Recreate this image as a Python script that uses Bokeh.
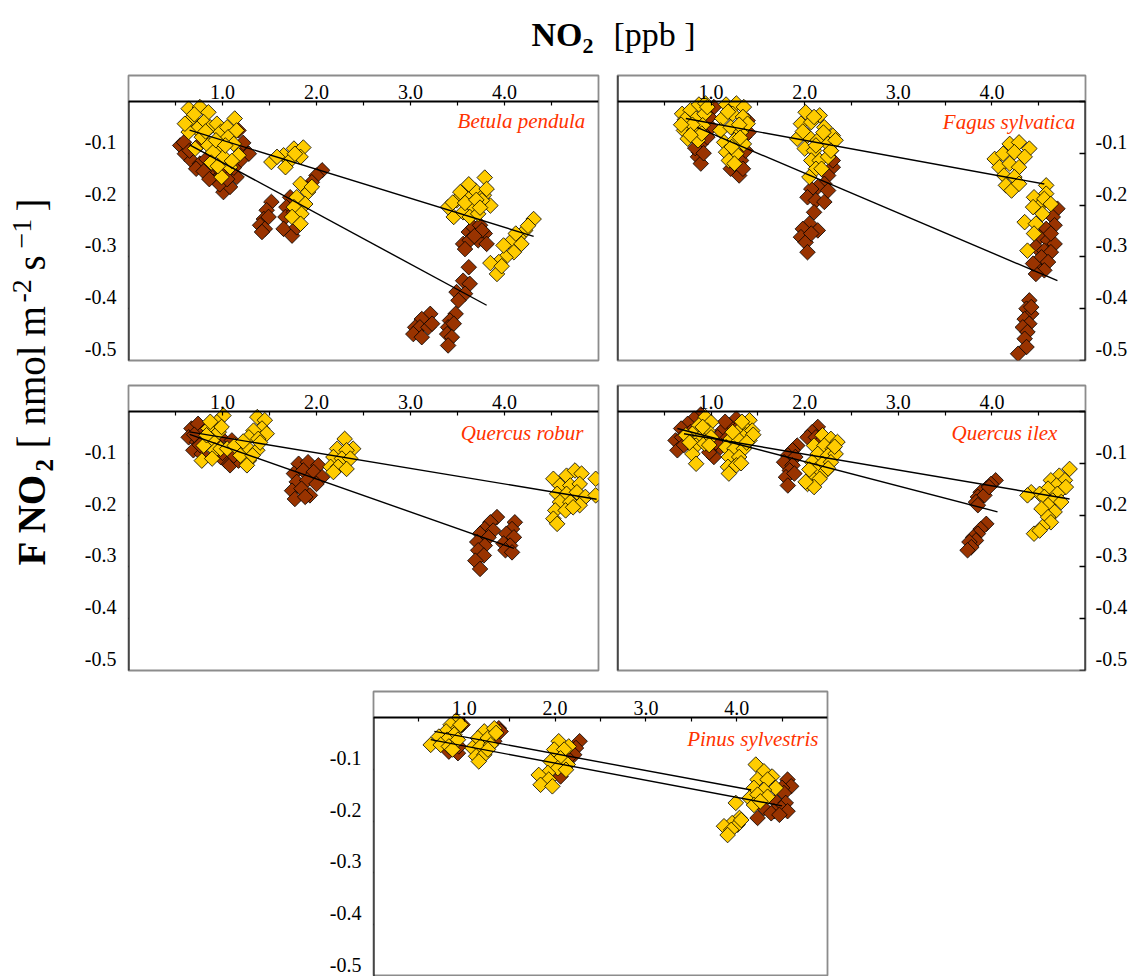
from math import pi

from bokeh.embed import file_html
from bokeh.layouts import column, row
from bokeh.models import (CustomJSTickFormatter, FixedTicker, Label, LinearAxis,
                          NumeralTickFormatter, Range1d, Spacer)
from bokeh.plotting import figure
from bokeh.resources import INLINE

# ---------------------------------------------------------------- styling
SERIF = "Liberation Serif"
GOLD = "#ffcc00"
BROWN = "#993300"
SPECIES_RED = "#ff3300"
FRAME_GREY = "#8c8c8c"
MARK_SIZE = 11           # side of the square marker, drawn rotated 45 deg
LABEL_RISE = 0.022       # y tick labels sit just above their tick marks

# ---------------------------------------------------------------- axes
X_MAJOR = [1, 2, 3, 4]
X_MINOR = [0.5, 1.5, 2.5, 3.5, 4.5]
Y_TICKS = [0, -0.1, -0.2, -0.3, -0.4, -0.5]
Y_LABELLED = [-0.1, -0.2, -0.3, -0.4, -0.5]

# ---------------------------------------------------------------- data
# NO2 concentration [ppb] vs. NO2 flux [nmol m-2 s-1], two series per species

BETULA_GOLD_X = [0.64, 0.76, 0.85, 0.67, 0.80, 0.73, 0.87, 0.94, 0.64, 0.78, 0.71, 0.85, 0.98,
                 1.05, 1.13, 1.06, 0.98, 1.12, 1.01, 1.08, 0.99, 0.90, 0.60, 1.15, 1.17,
                 0.70, 0.82, 0.93, 1.03, 0.88, 0.95, 1.10,
                 1.52, 1.65, 1.76, 1.86, 1.72, 1.83, 1.67, 1.58, 1.77,
                 1.83, 1.91, 1.79, 1.88, 1.76, 1.84, 1.74, 1.83, 1.95,
                 3.79, 3.40, 3.49, 3.60, 3.69, 3.78, 3.85, 3.46, 3.56, 3.67, 3.76, 3.63, 3.72,
                 3.53, 3.81, 3.45, 3.58, 3.70, 3.62, 3.74,
                 4.31, 4.22, 4.15, 4.06, 4.18, 4.10, 4.01, 3.94, 3.85, 3.92, 3.99, 4.12, 4.25,
                 3.97]
BETULA_GOLD_Y = [-0.014, -0.011, -0.021, -0.033, -0.040, -0.053, -0.050, -0.043, -0.059, -0.069,
                 -0.091, -0.085, -0.059, -0.050, -0.033, -0.069, -0.091, -0.082, -0.107, -0.127,
                 -0.146, -0.098, -0.043, -0.056, -0.104,
                 -0.025, -0.058, -0.075, -0.085, -0.118, -0.125, -0.115,
                 -0.117, -0.104, -0.091, -0.089, -0.114, -0.107, -0.127, -0.107, -0.101,
                 -0.159, -0.175, -0.185, -0.198, -0.204, -0.217, -0.223, -0.236, -0.165,
                 -0.147, -0.204, -0.191, -0.178, -0.172, -0.181, -0.201, -0.223, -0.214, -0.204,
                 -0.191, -0.223, -0.217, -0.175, -0.169, -0.195, -0.196, -0.190, -0.160, -0.205,
                 -0.227, -0.249, -0.262, -0.272, -0.275, -0.291, -0.301, -0.310, -0.312, -0.333,
                 -0.278, -0.255, -0.240, -0.318]
BETULA_BROWN_X = [0.55, 0.60, 0.67, 0.76, 0.83, 0.87, 0.94, 1.01, 1.08, 1.15, 1.24, 1.28, 1.19,
                  0.90, 0.76, 0.59, 0.98, 1.17, 0.65, 0.72, 0.80, 0.97, 1.05, 1.12, 1.22, 0.86,
                  1.52, 1.47, 1.44, 1.49, 1.40, 1.45, 1.42,
                  2.06, 2.00, 1.95, 1.90, 1.72, 1.68, 1.67, 1.65, 1.74, 1.79, 1.76,
                  3.56, 3.62, 3.67, 3.74, 3.79, 3.72, 3.63, 3.81, 3.76, 3.68, 3.58,
                  3.62, 3.56, 3.63, 3.49, 3.58, 3.51,
                  3.21, 3.12, 3.05, 3.10, 3.19, 3.03, 3.12, 3.23,
                  3.48, 3.42, 3.40, 3.46, 3.39, 3.44, 3.40]
BETULA_BROWN_Y = [-0.085, -0.101, -0.114, -0.120, -0.111, -0.140, -0.153, -0.175, -0.165, -0.146,
                  -0.095, -0.101, -0.114, -0.127, -0.082, -0.079, -0.133, -0.056,
                  -0.095, -0.130, -0.135, -0.160, -0.150, -0.128, -0.080, -0.150,
                  -0.194, -0.210, -0.227, -0.223, -0.239, -0.246, -0.252,
                  -0.133, -0.143, -0.156, -0.169, -0.185, -0.204, -0.223, -0.246, -0.259, -0.243,
                  -0.214,
                  -0.275, -0.252, -0.243, -0.239, -0.255, -0.268, -0.268, -0.275, -0.249, -0.260,
                  -0.285,
                  -0.320, -0.346, -0.352, -0.368, -0.371, -0.384,
                  -0.410, -0.420, -0.436, -0.436, -0.436, -0.449, -0.455, -0.429,
                  -0.410, -0.423, -0.436, -0.429, -0.449, -0.455, -0.471]

FAGUS_GOLD_X = [0.69, 0.78, 0.87, 0.94, 0.75, 0.84, 0.93, 0.71, 0.82, 0.91, 0.75, 0.86, 0.96,
                0.72, 0.80, 0.90, 0.78, 0.68,
                1.16, 1.27, 1.35, 1.12, 1.23, 1.34, 1.10, 1.21, 1.32, 1.14, 1.25, 1.35, 1.16,
                1.27, 1.19, 1.39, 1.18, 1.30, 1.22, 1.31, 1.25,
                2.01, 2.16, 1.96, 2.07, 2.21, 2.30, 1.92, 2.03, 2.14, 2.25, 2.33, 2.00, 2.10,
                2.07, 2.16, 2.25, 2.12, 2.05, 2.10, 2.20, 2.28, 1.98, 2.12, 2.18,
                4.19, 4.29, 4.40, 4.03, 4.12, 4.24, 4.35, 4.08, 4.19, 4.29, 4.13, 4.24, 4.15,
                4.21, 4.29,
                4.58, 4.58, 4.45, 4.53, 4.44, 4.54, 4.35, 4.47, 4.45, 4.56, 4.38, 4.63]
FAGUS_GOLD_Y = [-0.024, -0.017, -0.006, -0.004, -0.040, -0.033, -0.024, -0.056, -0.056, -0.046,
                -0.072, -0.075, -0.011, -0.035, -0.045, -0.062, -0.065, -0.045,
                -0.006, -0.004, -0.011, -0.033, -0.024, -0.030, -0.056, -0.050, -0.059, -0.079,
                -0.075, -0.082, -0.098, -0.101, -0.114, -0.043, -0.020, -0.045, -0.088, -0.070,
                -0.120,
                -0.021, -0.027, -0.043, -0.040, -0.050, -0.066, -0.072, -0.066, -0.075, -0.082,
                -0.075, -0.091, -0.095, -0.114, -0.114, -0.107, -0.130, -0.146, -0.030, -0.060,
                -0.095, -0.058, -0.085, -0.130,
                -0.082, -0.079, -0.091, -0.111, -0.101, -0.098, -0.107, -0.127, -0.120, -0.127,
                -0.143, -0.146, -0.162, -0.172, -0.159,
                -0.162, -0.178, -0.185, -0.198, -0.204, -0.217, -0.233, -0.236, -0.255, -0.188,
                -0.288, -0.198]
FAGUS_BROWN_X = [0.89, 0.87, 0.86, 0.89, 1.00, 1.03, 0.96, 0.83, 0.92, 0.98,
                 1.21, 1.30, 1.32, 1.37, 1.39, 1.35, 1.25, 1.34, 1.40,
                 2.28, 2.30, 2.25, 2.21, 2.14, 2.07, 2.03, 2.12, 2.21, 2.10, 2.05, 1.98, 1.96,
                 2.01, 2.03, 2.14, 2.07, 2.25, 2.30,
                 4.70, 4.65, 4.67, 4.58, 4.51, 4.60, 4.67, 4.47, 4.56, 4.63, 4.53, 4.60, 4.49,
                 4.56, 4.47, 4.44, 4.63,
                 4.40, 4.37, 4.42, 4.35, 4.40, 4.33, 4.38, 4.35, 4.37, 4.28, 4.42]
FAGUS_BROWN_Y = [-0.082, -0.098, -0.107, -0.120, -0.050, -0.011, -0.069, -0.090, -0.100, -0.030,
                 -0.130, -0.143, -0.114, -0.095, -0.037, -0.069, -0.120, -0.130, -0.060,
                 -0.095, -0.127, -0.143, -0.159, -0.165, -0.169, -0.185, -0.191, -0.194, -0.214,
                 -0.236, -0.246, -0.262, -0.272, -0.291, -0.249, -0.255, -0.172, -0.114,
                 -0.207, -0.223, -0.239, -0.246, -0.262, -0.268, -0.275, -0.281, -0.288, -0.291,
                 -0.301, -0.310, -0.323, -0.326, -0.333, -0.313, -0.255,
                 -0.384, -0.400, -0.410, -0.420, -0.429, -0.436, -0.445, -0.458, -0.474, -0.487,
                 -0.397]

ROBUR_GOLD_X = [1.01, 0.94, 0.85, 0.96, 0.89, 0.80, 0.92, 0.78, 0.89, 0.98, 1.05, 1.37, 1.45,
                1.42, 1.47, 1.33, 1.28, 1.38, 1.26, 1.37, 1.28, 1.19, 1.26, 1.13, 0.83,
                0.87, 0.99, 1.40, 1.32, 1.22,
                2.30, 2.39, 2.22, 2.32, 2.18, 2.27, 2.36, 2.15, 2.23, 2.32, 2.18,
                4.52, 4.66, 4.75, 4.82, 4.97, 4.59, 4.70, 4.80, 4.56, 4.66, 4.77, 4.86, 4.97,
                4.59, 4.70, 4.80, 4.54, 4.65, 4.52, 4.56, 4.73]
ROBUR_GOLD_Y = [-0.008, -0.021, -0.033, -0.040, -0.056, -0.066, -0.075, -0.095, -0.091, -0.072,
                -0.072, -0.011, -0.017, -0.033, -0.043, -0.037, -0.050, -0.053, -0.069, -0.075,
                -0.095, -0.085, -0.104, -0.066, -0.046,
                -0.020, -0.030, -0.060, -0.085, -0.058,
                -0.053, -0.072, -0.072, -0.075, -0.088, -0.091, -0.091, -0.107, -0.107, -0.111,
                -0.117,
                -0.130, -0.124, -0.114, -0.120, -0.130, -0.143, -0.143, -0.140, -0.159, -0.159,
                -0.156, -0.165, -0.162, -0.175, -0.175, -0.181, -0.191, -0.191, -0.207, -0.217,
                -0.185]
ROBUR_BROWN_X = [0.67, 0.74, 0.80, 0.64, 0.73, 0.69, 0.78, 0.85, 0.98, 1.05, 1.10, 1.15, 1.03,
                 1.08, 0.98, 1.17, 0.70, 0.76, 1.12, 0.92, 1.00,
                 1.81, 1.91, 2.02, 1.76, 1.86, 1.97, 2.06, 1.79, 1.90, 2.00, 1.74, 1.84, 1.93,
                 1.77, 1.88,
                 3.92, 3.85, 3.79, 3.88, 3.74, 3.83, 3.71, 3.79, 3.72, 3.78, 3.69, 3.74, 4.11,
                 4.08, 4.02, 4.10, 3.99, 4.06, 4.01, 4.08]
ROBUR_BROWN_Y = [-0.033, -0.024, -0.040, -0.050, -0.059, -0.075, -0.082, -0.053, -0.050, -0.069,
                 -0.056, -0.075, -0.095, -0.104, -0.088, -0.095, -0.045, -0.065, -0.085, -0.060,
                 -0.080,
                 -0.101, -0.098, -0.104, -0.120, -0.114, -0.117, -0.127, -0.136, -0.133, -0.140,
                 -0.153, -0.149, -0.162, -0.169, -0.165,
                 -0.204, -0.214, -0.227, -0.230, -0.236, -0.243, -0.252, -0.259, -0.268, -0.278,
                 -0.288, -0.304, -0.214, -0.227, -0.236, -0.243, -0.255, -0.259, -0.268, -0.272]

ILEX_GOLD_X = [0.94, 1.00, 0.87, 0.96, 0.80, 0.89, 0.84, 0.93, 0.80, 0.84, 0.73, 1.00,
               0.91, 0.77, 0.98,
               1.41, 1.35, 1.28, 1.37, 1.21, 1.30, 1.41, 1.16, 1.25, 1.35, 1.19, 1.30, 1.18,
               1.27, 1.19, 1.44, 1.33, 1.45, 1.23, 1.32, 1.38,
               2.19, 2.28, 2.35, 2.10, 2.21, 2.30, 2.14, 2.25, 2.33, 2.08, 2.19, 2.28, 2.12,
               2.23, 2.07, 2.16, 2.03, 2.10, 2.01, 2.25, 2.05, 2.32,
               4.83, 4.72, 4.78, 4.63, 4.69, 4.79, 4.60, 4.42, 4.51, 4.70, 4.56, 4.65, 4.74,
               4.60, 4.53, 4.67, 4.60, 4.63, 4.54, 4.45, 4.51, 4.38]
ILEX_GOLD_Y = [-0.011, -0.021, -0.027, -0.037, -0.043, -0.050, -0.066, -0.062, -0.082, -0.101,
               -0.046, -0.050, -0.030, -0.060, -0.065,
               -0.017, -0.030, -0.040, -0.046, -0.053, -0.056, -0.056, -0.069, -0.072, -0.072,
               -0.088, -0.088, -0.107, -0.104, -0.120, -0.037, -0.020, -0.045, -0.040, -0.100,
               -0.060,
               -0.046, -0.053, -0.059, -0.066, -0.066, -0.072, -0.082, -0.085, -0.082, -0.098,
               -0.101, -0.098, -0.114, -0.114, -0.127, -0.130, -0.140, -0.146, -0.136, -0.110,
               -0.112, -0.068,
               -0.111, -0.124, -0.133, -0.133, -0.143, -0.146, -0.149, -0.156, -0.159, -0.159,
               -0.165, -0.172, -0.175, -0.181, -0.188, -0.194, -0.204, -0.214, -0.223, -0.236,
               -0.230, -0.162]
ILEX_BROWN_X = [0.89, 0.82, 0.75, 0.68, 0.62, 0.69, 0.64, 0.78, 0.75, 0.71,
                1.27, 1.19, 1.12, 1.07, 1.00, 1.03, 0.98, 1.10, 1.18, 1.28, 1.15, 1.05,
                1.92, 1.87, 1.82, 1.90, 1.78, 1.87, 1.84, 1.80, 1.89, 1.82,
                2.14, 2.08, 2.03, 2.12, 2.17,
                4.04, 3.99, 3.94, 3.88, 3.85, 3.92, 3.83, 3.85, 3.97,
                3.94, 3.88, 3.85, 3.80, 3.83, 3.76, 3.78, 3.74]
ILEX_BROWN_Y = [-0.006, -0.014, -0.024, -0.033, -0.056, -0.050, -0.075, -0.040, -0.059, -0.065,
                -0.014, -0.027, -0.037, -0.050, -0.069, -0.088, -0.079, -0.069, -0.050, -0.033,
                -0.020, -0.060,
                -0.066, -0.075, -0.085, -0.088, -0.098, -0.104, -0.114, -0.127, -0.120, -0.143,
                -0.030, -0.040, -0.050, -0.050, -0.059,
                -0.133, -0.140, -0.149, -0.156, -0.165, -0.162, -0.175, -0.181, -0.146,
                -0.217, -0.227, -0.236, -0.243, -0.249, -0.252, -0.262, -0.268]

PINUS_GOLD_X = [0.91, 0.85, 0.93, 0.80, 0.89, 0.72, 0.81, 0.93, 0.63, 0.74, 0.83, 0.87, 0.96,
                1.22, 1.33, 1.15, 1.26, 1.09, 1.18, 1.29, 1.13, 1.22, 1.16, 1.26, 1.35,
                2.04, 2.15, 1.99, 2.10, 2.06, 1.95, 2.14, 2.03, 1.92, 1.82, 1.93, 1.84, 1.97,
                2.12,
                4.21, 4.30, 4.39, 4.23, 4.34, 4.43, 4.19, 4.30, 4.14, 4.23, 4.34, 4.19, 4.26,
                3.99, 4.03, 3.95, 3.86, 4.01, 3.94, 3.90, 4.05]
PINUS_GOLD_Y = [-0.006, -0.014, -0.021, -0.027, -0.033, -0.037, -0.043, -0.043, -0.053, -0.053,
                -0.056, -0.062, -0.014,
                -0.027, -0.021, -0.040, -0.040, -0.059, -0.056, -0.053, -0.075, -0.072, -0.085,
                -0.062, -0.030,
                -0.046, -0.056, -0.062, -0.062, -0.079, -0.085, -0.091, -0.098, -0.107, -0.111,
                -0.120, -0.130, -0.133, -0.101,
                -0.091, -0.104, -0.114, -0.120, -0.120, -0.136, -0.136, -0.140, -0.156, -0.149,
                -0.153, -0.169, -0.162,
                -0.165, -0.194, -0.204, -0.210, -0.207, -0.217, -0.227, -0.198]
PINUS_BROWN_X = [0.83, 0.93, 0.98, 0.94,
                 1.38, 1.40, 1.33,
                 2.27, 2.23, 2.21, 2.14, 2.06,
                 4.56, 4.60, 4.50, 4.52, 4.43, 4.54, 4.49, 4.41, 4.56, 4.30, 4.23, 4.38, 4.47]
PINUS_BROWN_Y = [-0.066, -0.069, -0.014, -0.056,
                 -0.021, -0.027, -0.046,
                 -0.046, -0.059, -0.072, -0.079, -0.114,
                 -0.120, -0.133, -0.136, -0.146, -0.162, -0.165, -0.175, -0.181, -0.181, -0.175,
                 -0.194, -0.185, -0.188]

# linear fits: [x from, x to, slope, intercept]
BETULA_GOLD_FIT = [0.65, 4.31, -0.056, -0.019]
BETULA_BROWN_FIT = [0.65, 3.81, -0.098, -0.020]
FAGUS_GOLD_FIT = [0.73, 4.56, -0.033, -0.009]
FAGUS_BROWN_FIT = [0.85, 4.70, -0.0768, 0.015]
ROBUR_GOLD_FIT = [0.65, 4.98, -0.030, -0.020]
ROBUR_BROWN_FIT = [0.65, 4.10, -0.0637, -0.003]
ILEX_GOLD_FIT = [0.71, 4.83, -0.0306, -0.0213]
ILEX_BROWN_FIT = [0.64, 4.06, -0.047, -0.003]
PINUS_GOLD_FIT = [0.67, 4.16, -0.0324, -0.0053]
PINUS_BROWN_FIT = [0.63, 4.50, -0.033, -0.0222]

SPECIES = ["Betula pendula", "Fagus sylvatica", "Quercus robur", "Quercus ilex",
           "Pinus sylvestris"]
# species name anchor (right edge, vertical middle) in data units
SPECIES_X = [4.86, 4.89, 4.84, 4.70, 4.90]
SPECIES_Y = [-0.037, -0.039, -0.042, -0.042, -0.041]


def blank_formatter():
    return CustomJSTickFormatter(code="return '';")


def make_panel(idx, gx, gy, bx, by, gold_fit, brown_fit, side, width, height,
               border_left, border_right, border_top, border_bottom):
    p = figure(width=width, height=height, x_range=Range1d(0, 5), y_range=Range1d(-0.5, 0.05),
               x_axis_type=None, y_axis_type=None, toolbar_location=None,
               output_backend="svg",
               min_border_left=border_left, min_border_right=border_right,
               min_border_top=border_top, min_border_bottom=border_bottom)
    p.outline_line_color = FRAME_GREY
    p.outline_line_width = 1.8
    p.background_fill_color = "white"
    p.border_fill_color = "white"

    # concentration axis running along F = 0, labels above the line
    xa = LinearAxis(fixed_location=0,
                    ticker=FixedTicker(ticks=X_MAJOR, minor_ticks=X_MINOR),
                    formatter=NumeralTickFormatter(format="0.0"),
                    axis_line_color="black", axis_line_width=2,
                    major_tick_in=4, major_tick_out=0, minor_tick_in=4, minor_tick_out=0,
                    major_tick_line_width=1.2, minor_tick_line_width=1.2,
                    major_label_standoff=2,
                    major_label_text_font=SERIF, major_label_text_font_size="20px",
                    major_label_text_color="black")
    p.add_layout(xa, "above")

    # flux axis: tick marks on the frame edge
    on_left = side == "left"
    ya = LinearAxis(fixed_location=0 if on_left else 5, bounds=(-0.5, 0),
                    ticker=FixedTicker(ticks=Y_TICKS), formatter=blank_formatter(),
                    axis_line_color="black", axis_line_width=2,
                    major_tick_out=4 if on_left else 0, major_tick_in=0 if on_left else 6,
                    major_tick_line_width=1.5, minor_tick_line_color=None)
    p.add_layout(ya, side)

    if not on_left:
        edge = LinearAxis(fixed_location=0, ticker=FixedTicker(ticks=[]),
                          formatter=blank_formatter(),
                          axis_line_color="black", axis_line_width=2,
                          major_tick_line_color=None, minor_tick_line_color=None)
        p.add_layout(edge, "left")

    # flux tick labels, raised slightly above their tick marks
    p.extra_y_ranges = {"labels": Range1d(-0.5 - LABEL_RISE, 0.05 - LABEL_RISE)}
    la = LinearAxis(y_range_name="labels", ticker=FixedTicker(ticks=Y_LABELLED),
                    formatter=NumeralTickFormatter(format="0.0"),
                    axis_line_color=None, major_tick_line_color=None,
                    minor_tick_line_color=None, major_tick_out=0, major_tick_in=0,
                    major_label_standoff=12 if on_left else 10,
                    major_label_text_font=SERIF, major_label_text_font_size="20px",
                    major_label_text_color="black")
    p.add_layout(la, side)

    p.scatter(bx, by, marker="square", size=MARK_SIZE, angle=pi / 4,
              fill_color=BROWN, line_color="black", line_width=0.8)
    p.scatter(gx, gy, marker="square", size=MARK_SIZE, angle=pi / 4,
              fill_color=GOLD, line_color="black", line_width=0.8)

    for x0, x1, slope, icpt in (gold_fit, brown_fit):
        p.line([x0, x1], [icpt + slope * x0, icpt + slope * x1],
               line_color="black", line_width=1.4)

    p.add_layout(Label(x=SPECIES_X[idx], y=SPECIES_Y[idx], text=SPECIES[idx],
                       text_align="right", text_baseline="middle",
                       text_font=SERIF, text_font_style="italic",
                       text_font_size="21px", text_color=SPECIES_RED))
    return p


p1 = make_panel(0, BETULA_GOLD_X, BETULA_GOLD_Y, BETULA_BROWN_X, BETULA_BROWN_Y,
                BETULA_GOLD_FIT, BETULA_BROWN_FIT, "left", 538, 312, 58, 10, 15, 12)
p2 = make_panel(1, FAGUS_GOLD_X, FAGUS_GOLD_Y, FAGUS_BROWN_X, FAGUS_BROWN_Y,
                FAGUS_GOLD_FIT, FAGUS_BROWN_FIT, "right", 524, 312, 9, 47, 15, 12)
p3 = make_panel(2, ROBUR_GOLD_X, ROBUR_GOLD_Y, ROBUR_BROWN_X, ROBUR_BROWN_Y,
                ROBUR_GOLD_FIT, ROBUR_BROWN_FIT, "left", 538, 310, 58, 10, 13, 12)
p4 = make_panel(3, ILEX_GOLD_X, ILEX_GOLD_Y, ILEX_BROWN_X, ILEX_BROWN_Y,
                ILEX_GOLD_FIT, ILEX_BROWN_FIT, "right", 524, 310, 9, 47, 13, 12)
p5 = make_panel(4, PINUS_GOLD_X, PINUS_GOLD_Y, PINUS_BROWN_X, PINUS_BROWN_Y,
                PINUS_GOLD_FIT, PINUS_BROWN_FIT, "left", 525, 294, 58, 13, 9, 0)


def text_canvas(width, height, top):
    c = figure(width=width, height=height, x_range=Range1d(0, width),
               y_range=Range1d(top + height, top), x_axis_type=None, y_axis_type=None,
               toolbar_location=None, output_backend="svg", min_border=0,
               outline_line_color=None)
    return c


# heading: NO2 [ppb]  (x, vertical middle, text, weight, size)
head = text_canvas(1132, 60, 0)
head_parts = [
    (531, 34, "NO", "bold", "34px"),
    (582, 45, "2", "bold", "22px"),
    (613, 34, "[ppb ]", "normal", "34px"),
]
for x, y, txt, style, size in head_parts:
    head.add_layout(Label(x=x, y=y, text=txt, text_font=SERIF, text_font_style=style,
                          text_font_size=size, text_color="black",
                          text_align="left", text_baseline="middle"))

# vertical axis title: F NO2 [ nmol m-2 s-1 ], read bottom to top
# (middle line x, start y, text, weight, size)
ylab = text_canvas(70, 622, 60)
ylab_parts = [
    (31, 565, "F NO", "bold", "39px"),
    (44, 471, "2", "bold", "25px"),
    (31, 448, "[", "normal", "39px"),
    (31, 425, "nmol", "normal", "39px"),
    (31, 336, "m", "normal", "39px"),
    (21, 302, "-2", "normal", "28px"),
    (31, 270, "s", "normal", "39px"),
    (21, 248, "\u22121", "normal", "28px"),
    (31, 211, "]", "normal", "39px"),
]
for x, y, txt, style, size in ylab_parts:
    ylab.add_layout(Label(x=x, y=y, text=txt, angle=pi / 2, text_font=SERIF,
                          text_font_style=style, text_font_size=size, text_color="black",
                          text_align="left", text_baseline="middle"))

layout = column(
    head,
    row(ylab, column(row(p1, p2), row(p3, p4))),
    row(Spacer(width=315, height=294), p5),
)

open("out.html", "w").write(file_html(layout, INLINE))
